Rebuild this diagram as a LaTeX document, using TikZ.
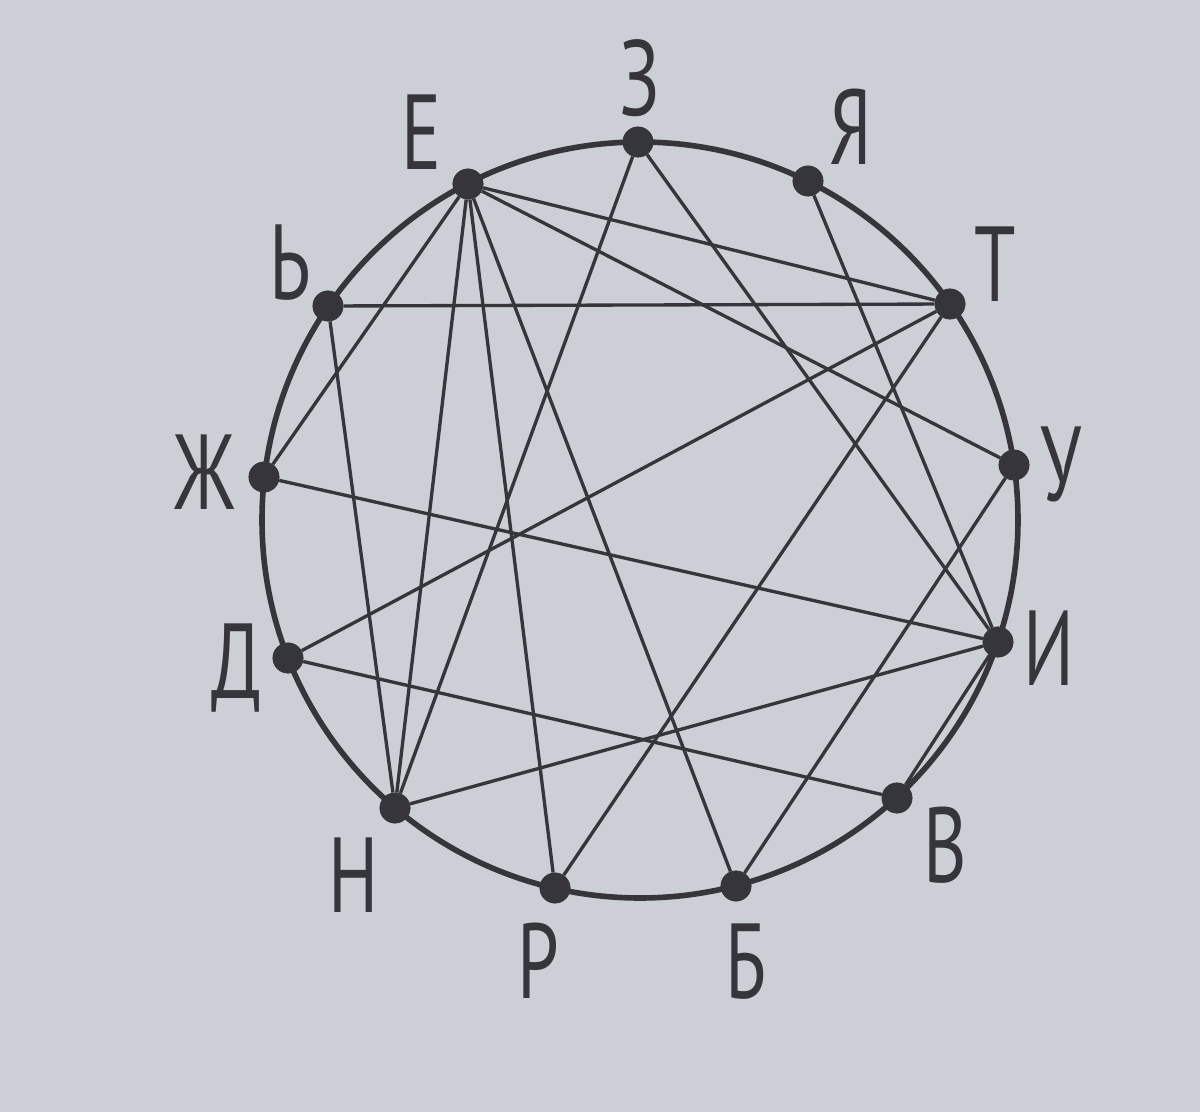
\documentclass[tikz,border=0pt]{standalone}
\usepackage{fontspec}
\usepackage{xcolor}
\usepackage{tikz}
\newfontfamily\letterfont[FakeStretch=0.7]{PT Sans}
\definecolor{paper}{RGB}{204,207,213}
\definecolor{ink}{RGB}{55,53,60}

\begin{document}
\begin{tikzpicture}[x=0.75pt,y=0.75pt,yscale=-1,xscale=1,
  dot/.style={circle,fill=ink,inner sep=0pt,minimum size=23pt},
  chord/.style={color=ink,line width=2.5pt},
  letter/.style={anchor=base,inner sep=0pt,text=ink,font=\letterfont\fontsize{80}{80}\selectfont}]
%set diagram left start at 0, and has height of 1112
\useasboundingbox (0,0) rectangle (1200,1112);
\fill [paper] (0,0) rectangle (1200,1112);
%Shape: Circle
\coordinate (c) at (640,520);
\draw [color=ink,line width=4.2pt] (c) circle [radius=283.5pt];
%Points on the circle
\node [dot] (ze) at (638,142) {};
\node [dot] (ya) at (808,181) {};
\node [dot] (te) at (950,304) {};
\node [dot] (u) at (1014,465) {};
\node [dot] (i) at (998,642) {};
\node [dot] (ve) at (897,798) {};
\node [dot] (be) at (736,886) {};
\node [dot] (er) at (555,888) {};
\node [dot] (en) at (395,808) {};
\node [dot] (de) at (288,658) {};
\node [dot] (zhe) at (264,477) {};
\node [dot] (soft) at (328,306) {};
\node [dot] (ye) at (468,184) {};
%Straight Lines
\draw [chord] (ye) -- (zhe) ;
\draw [chord] (ye) -- (en) ;
\draw [chord] (ye) -- (er) ;
\draw [chord] (ye) -- (be) ;
\draw [chord] (ye) -- (te) ;
\draw [chord] (ye) -- (u) ;
\draw [chord] (ze) -- (en) ;
\draw [chord] (ze) -- (i) ;
\draw [chord] (ya) -- (i) ;
\draw [chord] (te) -- (soft) ;
\draw [chord] (te) -- (de) ;
\draw [chord] (te) -- (er) ;
\draw [chord] (u) -- (be) ;
\draw [chord] (i) -- (zhe) ;
\draw [chord] (i) -- (en) ;
\draw [chord] (i) -- (ve) ;
\draw [chord] (de) -- (ve) ;
\draw [chord] (soft) -- (en) ;
%Dots drawn again on top of the lines
\foreach \p in {ze,ya,te,u,i,ve,be,er,en,de,zhe,soft,ye}
  \fill [ink] (\p) circle [radius=11.5pt];

% Text Node
\node [letter] (lze) at (640,116) {З};
% Text Node
\node [letter] (lya) at (851,165) {Я};
% Text Node
\node [letter] (lte) at (995,302) {Т};
% Text Node
\node [letter] (lu) at (1061,502) {У};
% Text Node
\node [letter] (li) at (1049,685) {И};
% Text Node
\node [letter] (lve) at (945,882) {В};
% Text Node
\node [letter] (lbe) at (746,998) {Б};
% Text Node
\node [letter] (ler) at (538,998) {Р};
% Text Node
\node [letter] (len) at (354,912) {Н};
% Text Node
\node [letter] (lde) at (236,698) {Д};
% Text Node
\node [letter] (lzhe) at (205,510) {Ж};
% Text Node
\node [letter] (lsoft) at (290,300) {Ь};
% Text Node
\node [letter] (lye) at (422,170) {Е};
\end{tikzpicture}
\end{document}
